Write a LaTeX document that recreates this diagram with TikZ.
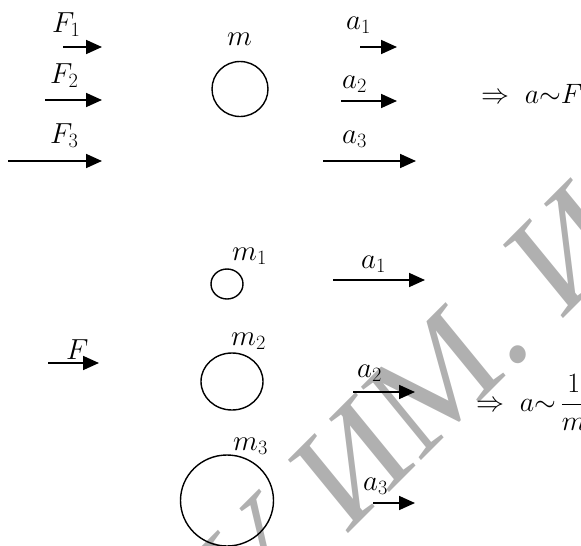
\RequirePackage{fix-cm}
\documentclass[tikz,border=0pt]{standalone}
\usepackage{fontspec}
\newfontfamily\wmfont{Liberation Serif}
\usetikzlibrary{arrows.meta,shapes.geometric}
\definecolor{wm}{RGB}{176,176,176}
\tikzset{
  vec/.style={line width=1.7pt,-{Triangle[length=16pt,width=14pt]}},
  lbl/.style={anchor=base west,inner sep=0pt,font=\fontsize{29}{34}\selectfont},
  res/.style={anchor=base west,inner sep=0pt,font=\fontsize{28}{33}\selectfont},
  body/.style={draw,ellipse,line width=1.4pt,inner sep=0pt},
  wmtext/.style={font=\wmfont\fontsize{144}{144}\selectfont,text=wm,rotate=45,xslant=0.1,inner sep=0pt,outer sep=0pt}
}
\begin{document}
\begin{tikzpicture}[x=1pt,y=-1pt]
\useasboundingbox (0,0) rectangle (581,546);
\clip (0,0) rectangle (581,546);
% watermark
\node[wmtext,anchor=base east] (wm1) at (535,347) {МГПУ ИМ.};
\node[wmtext,anchor=base west] (wm2) at (wm1.base east) {\hspace{0.25em}И.П. ШАМЯКИНА};
% top: same mass, different forces
\node[lbl] (lF1) at (52,32) {$F_1$};
\node[lbl] (lF2) at (50,83) {$F_2$};
\node[lbl] (lF3) at (50,143) {$F_3$};
\coordinate (f1s) at (63,47);  \coordinate (f1e) at (102,47);
\coordinate (f2s) at (45,100); \coordinate (f2e) at (102,100);
\coordinate (f3s) at (8,161);  \coordinate (f3e) at (102,161);
\draw[vec] (f1s) -- (f1e);
\draw[vec] (f2s) -- (f2e);
\draw[vec] (f3s) -- (f3e);
\node[lbl] (lm) at (227,45) {$m$};
\node[body,minimum width=56pt,minimum height=55pt] (mass) at (240,89) {};
\node[lbl] (la1) at (346,29) {$a_1$};
\node[lbl] (la2) at (342,88) {$a_2$};
\node[lbl] (la3) at (342,143) {$a_3$};
\coordinate (a1s) at (360,47);  \coordinate (a1e) at (397,47);
\coordinate (a2s) at (341,101); \coordinate (a2e) at (397,101);
\coordinate (a3s) at (323,161); \coordinate (a3e) at (416,161);
\draw[vec] (a1s) -- (a1e);
\draw[vec] (a2s) -- (a2e);
\draw[vec] (a3s) -- (a3e);
\node[res] (res1) at (481,103) {$\Rightarrow\; a{\sim}F$};
% bottom: same force, different masses
\node[lbl] (lF) at (66,359) {$F$};
\coordinate (fs) at (48,363); \coordinate (fe) at (99,363);
\draw[vec] (fs) -- (fe);
\node[lbl] (lm1) at (232,260) {$m_1$};
\node[body,minimum width=32pt,minimum height=30pt] (mass1) at (227,284) {};
\node[lbl] (lm2) at (231,345) {$m_2$};
\node[body,minimum width=62pt,minimum height=57pt] (mass2) at (232,381.5) {};
\node[lbl] (lm3) at (233,450) {$m_3$};
\node[body,minimum width=93pt,minimum height=91pt] (mass3) at (227,500.5) {};
\node[lbl] (lb1) at (361,268) {$a_1$};
\node[lbl] (lb2) at (357,377) {$a_2$};
\node[lbl] (lb3) at (363,490) {$a_3$};
\coordinate (b1s) at (333,280); \coordinate (b1e) at (425,280);
\coordinate (b2s) at (353,392); \coordinate (b2e) at (415,392);
\coordinate (b3s) at (373,503); \coordinate (b3e) at (415,503);
\draw[vec] (b1s) -- (b1e);
\draw[vec] (b2s) -- (b2e);
\draw[vec] (b3s) -- (b3e);
\node[res] (res2) at (476,411) {$\displaystyle\Rightarrow\; a{\sim}\,\frac{1}{m}$};
\end{tikzpicture}
\end{document}
